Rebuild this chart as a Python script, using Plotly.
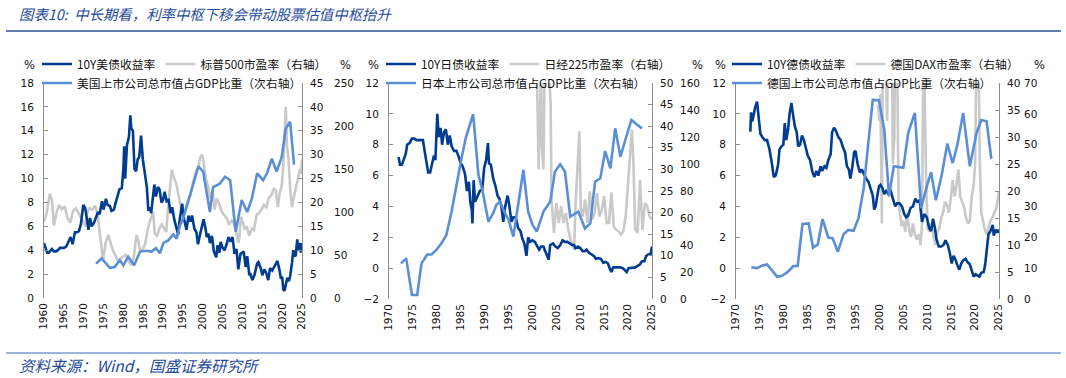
import plotly.graph_objects as go

# ---------------- data ----------------
ticks_p1 = list(range(1960, 2026, 5))
ticks_p23 = list(range(1970, 2026, 5))

# Panel 1: United States
us_yield_t = [1960.0, 1960.4, 1960.8, 1961.2, 1961.6, 1962.0, 1962.5, 1963.0, 1963.5, 1964.0, 1964.5, 1965.0,
              1965.6, 1966.0, 1966.7, 1967.2, 1967.8, 1968.3, 1968.8, 1969.3, 1969.9, 1970.4, 1970.9, 1971.2,
              1971.6, 1972.0, 1972.6, 1973.0, 1973.6, 1974.0, 1974.6, 1975.0, 1975.6, 1976.0, 1976.6, 1977.0,
              1977.6, 1978.0, 1978.6, 1979.0, 1979.6, 1980.0, 1980.2, 1980.45, 1980.9, 1981.4, 1981.75, 1982.0,
              1982.4, 1982.8, 1983.2, 1983.6, 1984.0, 1984.45, 1984.9, 1985.4, 1985.9, 1986.3, 1986.7, 1987.0,
              1987.4, 1987.8, 1988.2, 1988.7, 1989.1, 1989.6, 1990.0, 1990.4, 1990.9, 1991.4, 1991.9, 1992.3,
              1992.8, 1993.3, 1993.8, 1994.2, 1994.8, 1995.3, 1995.9, 1996.4, 1996.9, 1997.3, 1997.9, 1998.4,
              1998.8, 1999.3, 1999.9, 2000.2, 2000.7, 2001.0, 2001.4, 2001.8, 2002.3, 2002.8, 2003.4, 2003.7,
              2004.2, 2004.5, 2005.0, 2005.5, 2006.0, 2006.5, 2007.0, 2007.5, 2008.0, 2008.5, 2008.95, 2009.5,
              2010.0, 2010.3, 2010.8, 2011.2, 2011.7, 2012.0, 2012.5, 2013.0, 2013.7, 2014.0, 2014.6, 2015.0,
              2015.5, 2016.0, 2016.5, 2016.95, 2017.5, 2018.0, 2018.8, 2019.3, 2019.7, 2020.0, 2020.3, 2020.6,
              2021.0, 2021.3, 2021.7, 2022.0, 2022.5, 2022.8, 2023.0, 2023.4, 2023.8, 2024.0, 2024.3, 2024.7,
              2025.0]
us_yield = [4.6, 4.2, 3.8, 3.8, 4.0, 4.1, 3.9, 3.9, 4.0, 4.2, 4.2, 4.2,
            4.3, 4.6, 5.1, 4.5, 5.5, 5.5, 5.6, 6.2, 7.8, 7.5, 6.5, 5.7,
            6.7, 6.0, 6.3, 6.6, 7.2, 7.0, 8.1, 7.4, 8.3, 7.8, 7.7, 7.3,
            7.4, 7.9, 8.6, 9.1, 9.2, 10.8, 12.7, 10.0, 12.8, 13.5, 15.3, 14.2,
            14.0, 10.8, 10.6, 11.6, 11.8, 13.6, 11.6, 10.4, 9.3, 7.3, 7.6, 7.1,
            8.5, 9.5, 8.5, 9.3, 9.1, 8.0, 8.2, 8.9, 8.1, 8.2, 7.1, 7.6,
            6.6, 6.0, 5.3, 6.6, 7.9, 6.6, 5.7, 6.9, 6.4, 6.9, 5.8, 5.5,
            4.5, 5.3, 6.3, 6.6, 5.8, 5.1, 5.4, 4.6, 5.2, 3.9, 3.4, 4.4,
            3.8, 4.7, 4.2, 4.0, 4.5, 5.1, 4.7, 5.1, 3.7, 4.1, 2.4, 3.7,
            3.8, 3.9, 2.6, 3.5, 2.0, 2.0, 1.5, 1.9, 2.9, 3.0, 2.5, 1.9,
            2.4, 2.1, 1.5, 2.5, 2.3, 2.6, 3.1, 2.4, 1.6, 1.8, 0.7, 0.6,
            1.1, 1.7, 1.4, 1.8, 3.0, 4.0, 3.6, 3.5, 4.9, 4.0, 4.6, 3.8,
            4.6]

sp_pe_t = [1960.0, 1960.6, 1961.5, 1962.0, 1962.5, 1963.2, 1963.8, 1964.5, 1965.2, 1965.9, 1966.6, 1967.3,
           1968.0, 1968.6, 1969.2, 1969.9, 1970.4, 1970.9, 1971.5, 1972.2, 1972.9, 1973.5, 1974.0, 1974.5,
           1974.9, 1975.5, 1976.2, 1976.8, 1977.5, 1978.1, 1978.7, 1979.3, 1980.0, 1980.6, 1981.2, 1982.0,
           1982.6, 1983.3, 1983.8, 1984.3, 1984.9, 1985.5, 1986.1, 1986.7, 1987.5, 1987.9, 1988.5, 1989.1,
           1989.7, 1990.3, 1990.8, 1991.3, 1991.8, 1992.2, 1992.8, 1993.3, 1993.9, 1994.5, 1995.0, 1995.6,
           1996.3, 1996.9, 1997.6, 1998.3, 1998.9, 1999.4, 1999.9, 2000.3, 2000.8, 2001.3, 2001.9, 2002.5,
           2003.0, 2003.5, 2004.2, 2004.8, 2005.5, 2006.0, 2006.6, 2007.3, 2007.9, 2008.4, 2008.9, 2009.2,
           2009.6, 2010.0, 2010.6, 2011.1, 2011.7, 2012.3, 2012.9, 2013.6, 2014.2, 2014.8, 2015.4, 2016.0,
           2016.7, 2017.3, 2017.9, 2018.4, 2018.9, 2019.4, 2019.9, 2020.3, 2020.6, 2020.9, 2021.2, 2021.6,
           2022.1, 2022.5, 2022.8, 2023.2, 2023.6, 2024.0, 2024.5, 2024.8, 2025.0]
sp_pe = [16.0, 17.5, 21.8, 20.5, 15.2, 18.0, 19.5, 18.5, 19.2, 16.8, 15.8, 18.2,
         18.8, 18.0, 17.0, 15.8, 15.0, 18.0, 18.8, 18.5, 19.3, 17.5, 14.0, 10.4,
         7.8, 11.5, 13.2, 11.5, 9.7, 8.7, 7.6, 8.3, 8.6, 9.0, 7.9, 6.9,
         8.5, 13.2, 11.8, 9.6, 10.2, 11.4, 14.2, 16.2, 18.0, 13.5, 13.0, 14.6,
         15.4, 14.5, 13.8, 19.5, 24.0, 26.8, 25.0, 24.0, 21.5, 19.0, 16.8, 18.5,
         20.5, 21.5, 24.5, 26.5, 27.5, 29.5, 30.0, 27.8, 25.0, 23.5, 21.0, 22.5,
         18.5, 20.8, 19.5, 18.0, 17.2, 16.7, 15.5, 16.2, 15.5, 14.0, 11.5, 12.5,
         17.0, 16.0, 14.5, 14.8, 13.0, 14.5, 14.2, 17.5, 17.8, 18.5, 19.5, 19.0,
         21.0, 21.5, 23.0, 22.5, 19.0, 22.0, 23.5, 27.8, 35.0, 40.0, 32.0, 29.0,
         22.0, 19.0, 20.5, 22.0, 23.0, 24.5, 27.0, 26.0, 29.0]

us_mcap_t = [1973.1, 1974.5, 1976.6, 1977.8, 1979.1, 1980.0, 1981.2, 1982.7, 1984.2, 1985.7, 1987.1, 1988.2,
             1989.2, 1990.1, 1991.3, 1992.6, 1993.4, 1994.3, 1995.1, 1996.8, 1998.9, 2000.1, 2001.8, 2002.6,
             2004.3, 2005.6, 2006.9, 2008.3, 2009.8, 2011.2, 2012.4, 2013.7, 2015.2, 2016.2, 2017.4, 2018.6,
             2019.9, 2020.9, 2022.0, 2023.0]
us_mcap = [40, 46, 35, 36, 44, 38, 48, 38, 54, 55, 54, 58,
           52, 64, 67, 74, 69, 85, 93, 120, 153, 147, 100, 129,
           133, 141, 137, 77, 114, 100, 116, 145, 137, 145, 162, 147,
           164, 197, 205, 155]

# Panel 2: Japan
jp_yield_t = [1972.0, 1972.3, 1972.7, 1973.1, 1973.5, 1973.8, 1974.3, 1974.8, 1975.3, 1975.8, 1976.5, 1977.1,
              1977.5, 1977.8, 1978.2, 1978.6, 1979.0, 1979.4, 1979.7, 1980.1, 1980.4, 1980.8, 1981.1, 1981.5,
              1981.9, 1982.3, 1982.7, 1983.1, 1983.6, 1984.1, 1984.6, 1985.0, 1985.4, 1985.9, 1986.3, 1986.7,
              1987.0, 1987.3, 1987.45, 1987.7, 1988.0, 1988.5, 1989.0, 1989.5, 1989.9, 1990.3, 1990.7, 1990.9,
              1991.3, 1991.8, 1992.2, 1992.7, 1993.1, 1993.5, 1993.9, 1994.3, 1994.8, 1995.1, 1995.6, 1996.0,
              1996.5, 1997.0, 1997.5, 1997.9, 1998.3, 1998.75, 1999.1, 1999.5, 2000.0, 2000.5, 2001.0, 2001.4,
              2001.8, 2002.3, 2002.8, 2003.4, 2003.7, 2004.3, 2004.8, 2005.3, 2005.8, 2006.3, 2006.8, 2007.3,
              2007.8, 2008.3, 2008.7, 2009.0, 2009.5, 2010.0, 2010.5, 2010.9, 2011.3, 2011.8, 2012.3, 2012.8,
              2013.3, 2013.8, 2014.3, 2014.8, 2015.3, 2015.8, 2016.2, 2016.5, 2016.9, 2017.4, 2017.9, 2018.4,
              2018.9, 2019.3, 2019.7, 2020.1, 2020.6, 2021.0, 2021.5, 2022.0, 2022.5, 2022.9, 2023.4, 2023.8,
              2024.3, 2024.7, 2025.0]
jp_yield = [7.2, 6.7, 6.7, 7.0, 7.4, 8.0, 8.1, 8.4, 8.4, 8.3, 8.3, 8.3,
            7.5, 6.8, 6.2, 6.2, 6.8, 7.3, 7.0, 10.0, 8.5, 9.1, 8.0, 8.8,
            9.0, 8.0, 8.6, 7.9, 7.6, 7.6, 7.2, 6.8, 6.6, 6.1, 5.0, 5.6,
            4.3, 3.8, 2.9, 5.7, 4.3, 4.7, 5.0, 5.1, 6.5, 7.0, 8.1, 6.8,
            6.7, 5.8, 5.4, 4.7, 4.5, 4.0, 3.0, 4.0, 4.7, 4.2, 3.0, 3.3,
            3.3, 2.6, 2.4, 1.9, 1.6, 0.8, 2.0, 1.7, 1.8, 1.7, 1.4, 1.2,
            1.4, 1.4, 1.0, 0.55, 1.5, 1.6, 1.4, 1.3, 1.5, 1.8, 1.7, 1.7,
            1.6, 1.5, 1.5, 1.3, 1.4, 1.3, 1.1, 1.1, 1.2, 1.0, 0.9, 0.8,
            0.6, 0.65, 0.6, 0.35, 0.4, 0.3, -0.05, -0.25, 0.05, 0.05, 0.05, 0.05,
            0.0, -0.1, -0.25, 0.0, 0.02, 0.05, 0.05, 0.15, 0.25, 0.45, 0.45, 0.8,
            0.9, 0.9, 1.4]

nk_pe_t = [2000.8, 2001.0, 2001.3, 2001.5, 2001.8, 2002.0, 2002.3, 2002.6, 2003.0, 2003.4, 2003.8, 2004.0,
           2004.5, 2005.0, 2005.5, 2006.0, 2006.5, 2007.0, 2007.5, 2008.0, 2008.7, 2009.0, 2009.8, 2010.1,
           2010.5, 2011.0, 2011.5, 2012.0, 2012.5, 2013.0, 2013.5, 2014.0, 2014.5, 2015.0, 2015.5, 2016.0,
           2016.5, 2017.0, 2017.5, 2018.0, 2018.5, 2019.0, 2019.5, 2020.0, 2020.8, 2021.1, 2021.5, 2022.0,
           2022.5, 2023.0, 2023.5, 2024.0, 2024.5, 2025.0]
nk_pe = [60, 45, 30, 40, 52, 35, 30, 60, 70, 55, 45, 23,
         15.3, 22.2, 17.6, 21.5, 17.6, 19.9, 16.0, 13.7, 11.4, 21.5, 38.8, 21.0,
         19.1, 23.0, 17.6, 24.9, 18.4, 19.9, 24.5, 19.1, 20.7, 23.8, 17.6, 17.6,
         24.7, 16.8, 16.0, 15.7, 14.9, 15.7, 19.1, 26.9, 39.2, 32.0, 16.0, 15.3,
         27.6, 16.0, 22.2, 21.5, 19.1, 18.4]

jp_mcap_t = [1972.5, 1973.6, 1974.8, 1975.9, 1976.8, 1978.0, 1978.9, 1979.9, 1981.0, 1982.0, 1983.1, 1984.1,
             1985.2, 1986.1, 1987.6, 1988.7, 1989.5, 1990.8, 1991.8, 1992.5, 1993.2, 1994.2, 1995.0, 1996.0,
             1997.0, 1998.1, 1999.1, 2000.0, 2000.9, 2002.3, 2003.7, 2004.7, 2005.8, 2006.8, 2007.9, 2009.6,
             2011.0, 2012.1, 2013.1, 2014.2, 2015.2, 2016.3, 2017.3, 2018.4, 2019.6, 2020.7, 2021.9, 2022.9]
jp_mcap = [26.4, 30.1, 3.0, 3.0, 26.4, 33.0, 33.0, 36.3, 41.5, 47.4, 65.0, 85.0,
           105.0, 120.0, 137.0, 91.9, 81.0, 57.3, 63.7, 70.0, 72.1, 64.0, 58.8, 46.2,
           68.6, 95.6, 64.7, 55.0, 49.9, 64.7, 72.1, 94.3, 99.8, 94.3, 61.0, 64.7,
           52.3, 56.0, 86.9, 89.4, 109.6, 96.8, 126.4, 105.4, 120.0, 132.6, 129.0, 126.4]

# Panel 3: Germany
de_yield_t = [1973.0, 1973.15, 1973.4, 1973.7, 1974.0, 1974.4, 1974.8, 1975.1, 1975.5, 1976.0, 1976.5, 1977.0,
              1977.5, 1977.9, 1978.3, 1978.8, 1979.1, 1979.5, 1979.9, 1980.2, 1980.5, 1980.9, 1981.2, 1981.6,
              1981.9, 1982.3, 1982.7, 1983.0, 1983.4, 1983.8, 1984.2, 1984.6, 1985.0, 1985.5, 1986.0, 1986.4,
              1986.8, 1987.2, 1987.7, 1988.0, 1988.5, 1988.9, 1989.3, 1989.8, 1990.1, 1990.5, 1990.9, 1991.4,
              1991.9, 1992.3, 1992.8, 1993.2, 1993.6, 1993.9, 1994.3, 1994.7, 1995.0, 1995.4, 1995.9, 1996.3,
              1996.8, 1997.2, 1997.7, 1998.2, 1998.6, 1998.9, 1999.2, 1999.5, 1999.9, 2000.2, 2000.6, 2001.0,
              2001.4, 2001.9, 2002.3, 2002.8, 2003.3, 2003.7, 2004.2, 2004.7, 2005.2, 2005.6, 2006.0, 2006.5,
              2007.0, 2007.5, 2007.9, 2008.4, 2008.9, 2009.4, 2009.9, 2010.4, 2010.8, 2011.2, 2011.6, 2011.9,
              2012.4, 2012.9, 2013.4, 2013.8, 2014.3, 2014.7, 2015.1, 2015.5, 2015.9, 2016.4, 2016.7, 2017.1,
              2017.5, 2018.0, 2018.4, 2018.9, 2019.3, 2019.7, 2020.1, 2020.5, 2020.9, 2021.3, 2021.8, 2022.1,
              2022.5, 2022.8, 2023.2, 2023.7, 2023.9, 2024.3, 2024.7, 2025.0]
de_yield = [8.85, 10.1, 9.5, 10.0, 10.4, 10.8, 9.5, 8.7, 8.5, 8.3, 8.3, 7.7,
            6.8, 5.9, 6.0, 6.7, 7.7, 7.9, 8.0, 9.4, 8.3, 9.0, 10.0, 10.7,
            10.0, 9.2, 8.8, 7.9, 8.0, 8.6, 8.3, 7.8, 7.3, 7.0, 6.2, 5.9,
            6.3, 6.0, 6.6, 6.3, 6.6, 6.5, 7.0, 7.4, 8.8, 9.1, 8.9, 8.5,
            8.3, 7.9, 7.5, 6.6, 6.4, 5.8, 6.5, 7.5, 7.6, 6.8, 6.2, 6.4,
            6.0, 5.8, 5.6, 5.1, 4.7, 3.8, 4.0, 4.6, 5.3, 5.4, 5.2, 4.8,
            5.0, 4.8, 5.1, 4.5, 4.0, 4.2, 4.2, 4.0, 3.5, 3.3, 3.4, 3.9,
            4.0, 4.5, 4.3, 4.4, 3.0, 3.5, 3.3, 2.6, 2.4, 3.2, 2.6, 1.9,
            1.4, 1.4, 1.5, 1.8, 1.5, 1.0, 0.3, 0.8, 0.55, 0.1, -0.1, 0.3,
            0.5, 0.6, 0.4, 0.25, -0.1, -0.55, -0.4, -0.45, -0.55, -0.3, -0.25, 0.2,
            1.3, 2.2, 2.4, 2.8, 2.1, 2.5, 2.3, 2.5]

dax_pe_t = [1999.7, 2000.0, 2000.2, 2000.5, 2000.7, 2001.0, 2001.3, 2001.6, 2001.9, 2002.2, 2002.5, 2002.8,
            2003.1, 2003.4, 2003.7, 2004.0, 2004.3, 2004.6, 2005.0, 2005.4, 2005.8, 2006.2, 2006.6, 2007.0,
            2007.4, 2007.8, 2008.2, 2008.6, 2008.9, 2009.1, 2009.3, 2009.5, 2009.8, 2010.1, 2010.5, 2010.9,
            2011.3, 2011.7, 2012.1, 2012.5, 2012.9, 2013.3, 2013.7, 2014.1, 2014.5, 2014.9, 2015.3, 2015.7,
            2016.1, 2016.5, 2016.9, 2017.3, 2017.7, 2018.1, 2018.5, 2018.9, 2019.3, 2019.7, 2020.0, 2020.2,
            2020.4, 2020.7, 2021.0, 2021.3, 2021.7, 2022.0, 2022.4, 2022.8, 2023.2, 2023.6, 2024.0, 2024.5,
            2025.0]
dax_pe = [36, 33, 38, 14, 50, 60, 45, 33, 55, 40, 60, 25,
          30, 55, 45, 18, 15, 13.5, 14.5, 12.5, 16, 13, 11.5, 14,
          12, 11, 12, 10, 14, 45, 60, 35, 20, 13, 12.5, 14,
          11.5, 10, 12.5, 13, 15, 16, 18, 17.5, 16, 18.5, 22, 19,
          21, 24, 19, 18, 17, 15, 14, 14.5, 19, 21, 25, 40,
          60, 45, 25, 16, 14, 13, 12, 13.5, 14.5, 15, 16, 17,
          20]

de_mcap_t = [1973.2, 1974.4, 1975.4, 1976.5, 1977.4, 1978.6, 1979.6, 1980.7, 1982.0, 1982.9, 1983.9, 1985.2,
             1986.1, 1987.1, 1988.1, 1989.3, 1990.2, 1991.3, 1992.5, 1993.5, 1994.6, 1995.6, 1996.7, 1997.6,
             1998.6, 1999.9, 2001.0, 2002.0, 2003.0, 2005.0, 2006.0, 2007.4, 2008.7, 2010.0, 2010.8, 2011.8,
             2013.0, 2014.2, 2015.3, 2016.3, 2017.5, 2018.9, 2020.3, 2021.3, 2022.4, 2023.4]
de_mcap = [10.3, 10.0, 10.8, 11.2, 9.5, 7.2, 7.5, 8.6, 10.7, 10.7, 24.3, 24.5,
           16.6, 17.7, 25.9, 19.9, 19.7, 15.3, 21.0, 22.4, 22.1, 26.1, 35.9, 50.0,
           64.5, 64.4, 54.9, 33.3, 43.0, 42.5, 53.8, 60.3, 29.4, 37.0, 41.1, 32.0,
           40.0, 50.4, 44.0, 50.0, 60.3, 43.0, 53.8, 58.0, 57.6, 45.4]

# ---------------- styling ----------------
W, H = 1066, 378
def px(x):
    return x / W
def py(y):
    return 1 - y / H

DARK = "#003D91"
LIGHT = "#5B8FD5"
GRAY = "#C9C9C9"
AXIS = "#8E8E8E"
TXT = "#111111"
BLUE_TXT = "#1F4C9B"
CJK = "Noto Sans CJK SC"
NUM = "DejaVu Sans"
LW = 2.6

panels = [
    dict(x0=44, x1=302, top=83, bot=298, xr=[1960, 2025], xt=ticks_p1,
         yl=[0, 18], pe=[0, 45], mc=[0, 250], mcd=50, mcpos=333, zero=298,
         yld=(us_yield_t, us_yield), pet=(sp_pe_t, sp_pe), mct=(us_mcap_t, us_mcap),
         names=("10Y美债收益率", "标普500市盈率（右轴）", "美国上市公司总市值占GDP比重（次右轴）"),
         leg_x=37, pct_l=29, pct_r=345),
    dict(x0=389, x1=652, top=83, bot=299, xr=[1970, 2025], xt=ticks_p23,
         yl=[-2, 12], pe=[0, 50], mc=[0, 160], mcd=20, mcpos=679, zero=268.1,
         yld=(jp_yield_t, jp_yield), pet=(nk_pe_t, nk_pe), mct=(jp_mcap_t, jp_mcap),
         names=("10Y日债收益率", "日经225市盈率（右轴）", "日本上市公司总市值占GDP比重（次右轴）"),
         leg_x=381, pct_l=373, pct_r=697),
    dict(x0=736, x1=999, top=83, bot=299, xr=[1970, 2025], xt=ticks_p23,
         yl=[-2, 12], pe=[0, 40], mc=[0, 70], mcd=10, mcpos=1023, zero=268.1,
         yld=(de_yield_t, de_yield), pet=(dax_pe_t, dax_pe), mct=(de_mcap_t, de_mcap),
         names=("10Y德债收益率", "德国DAX市盈率（右轴）", "德国上市公司总市值占GDP比重（次右轴）"),
         leg_x=727, pct_l=720, pct_r=1039),
]

fig = go.Figure()
layout = dict(width=W, height=H, margin=dict(l=0, r=0, t=0, b=0, pad=0, autoexpand=False),
              plot_bgcolor="white", paper_bgcolor="white", showlegend=True)
annotations = []
tickfont = dict(family=NUM, size=10.5, color=TXT)

for i, p in enumerate(panels):
    n = i + 1
    xa = "x" if n == 1 else f"x{n}"
    ype = "y" if n == 1 else f"y{3 * i + 1}"
    yyl = f"y{3 * i + 2}"
    ymc = f"y{3 * i + 3}"
    dom_x = [px(p["x0"]), px(p["x1"])]
    dom_y = [py(p["bot"]), py(p["top"])]
    leg_a = "legend" if n == 1 else f"legend{n}"
    leg_b = f"legend{n + 3}"

    # traces: PE (base, bottom), yield (over), market cap/GDP (top)
    fig.add_trace(go.Scatter(x=p["pet"][0], y=p["pet"][1], xaxis=xa, yaxis=ype, mode="lines",
                             line=dict(color=GRAY, width=LW), name=p["names"][1],
                             legend=leg_a, legendrank=2, hoverinfo="skip"))
    fig.add_trace(go.Scatter(x=p["yld"][0], y=p["yld"][1], xaxis=xa, yaxis=yyl, mode="lines",
                             line=dict(color=DARK, width=LW), name=p["names"][0],
                             legend=leg_a, legendrank=1, hoverinfo="skip"))
    fig.add_trace(go.Scatter(x=p["mct"][0], y=p["mct"][1], xaxis=xa, yaxis=ymc, mode="lines",
                             line=dict(color=LIGHT, width=LW), name=p["names"][2],
                             legend=leg_b, hoverinfo="skip"))

    xk = "xaxis" if n == 1 else f"xaxis{n}"
    layout[xk] = dict(domain=dom_x, range=p["xr"], anchor=ype, tickmode="array", tickvals=p["xt"],
                      tickangle=-90, showline=False, ticks="", showgrid=False, zeroline=False,
                      tickfont=tickfont, ticklabelstandoff=2, automargin=False)
    layout[f"xaxis{n + 3}"] = dict(overlaying=xa, range=p["xr"], anchor="free", position=py(p["zero"]),
                                   side="bottom", tickmode="array", tickvals=p["xt"], ticks="inside",
                                   ticklen=4, tickcolor=AXIS, showline=True, linecolor=AXIS, linewidth=1,
                                   showticklabels=False, showgrid=False, zeroline=False, automargin=False)
    ypk = "yaxis" if n == 1 else f"yaxis{3 * i + 1}"
    layout[ypk] = dict(domain=dom_y, range=p["pe"], dtick=5, tick0=0, anchor=xa, side="right",
                       showline=True, linecolor=AXIS, linewidth=1, ticks="inside", ticklen=4,
                       tickcolor=AXIS, showgrid=False, zeroline=False, tickfont=tickfont,
                       ticklabelstandoff=5, automargin=False)
    layout[f"yaxis{3 * i + 2}"] = dict(overlaying=ype, range=p["yl"], dtick=2, tick0=0, anchor=xa,
                                       side="left", showline=True, linecolor=AXIS, linewidth=1,
                                       ticks="inside", ticklen=4, tickcolor=AXIS, showgrid=False,
                                       zeroline=False, tickfont=tickfont, ticklabelstandoff=7,
                                       automargin=False)
    layout[f"yaxis{3 * i + 3}"] = dict(overlaying=ype, range=p["mc"], dtick=p["mcd"], tick0=0,
                                       anchor="free", position=px(p["mcpos"]), side="right",
                                       showline=False, ticks="", showgrid=False, zeroline=False,
                                       tickfont=tickfont, automargin=False)
    legfont = dict(family=CJK, size=11.8, color=TXT)
    layout[leg_a] = dict(orientation="h", x=px(p["leg_x"]), y=py(64), xanchor="left", yanchor="middle",
                         bgcolor="rgba(0,0,0,0)", font=legfont, itemwidth=30, traceorder="normal")
    layout[leg_b] = dict(orientation="h", x=px(p["leg_x"]), y=py(83), xanchor="left", yanchor="middle",
                         bgcolor="rgba(0,0,0,0)", font=legfont, itemwidth=30)
    for xx in (p["pct_l"], p["pct_r"]):
        annotations.append(dict(text="%", x=px(xx), y=py(65), xref="paper", yref="paper",
                                showarrow=False, xanchor="center", yanchor="middle",
                                font=dict(family=NUM, size=11.5, color=TXT)))

annotations.append(dict(text="<i>图表10:  中长期看，利率中枢下移会带动股票估值中枢抬升</i>",
                        x=px(17), y=py(14), xref="paper", yref="paper", showarrow=False,
                        xanchor="left", yanchor="middle",
                        font=dict(family=CJK, size=14.4, color=BLUE_TXT)))
annotations.append(dict(text="<i>资料来源：Wind，国盛证券研究所</i>",
                        x=px(17), y=py(365), xref="paper", yref="paper", showarrow=False,
                        xanchor="left", yanchor="middle",
                        font=dict(family=CJK, size=15.5, color=BLUE_TXT)))
layout["annotations"] = annotations
layout["shapes"] = [
    dict(type="line", xref="paper", yref="paper", x0=px(6), x1=px(1061), y0=py(31), y1=py(31),
         line=dict(color="#2F5597", width=1.6)),
    dict(type="line", xref="paper", yref="paper", x0=px(6), x1=px(1061), y0=py(353), y1=py(353),
         line=dict(color="#7A9BCF", width=1.6)),
]
fig.update_layout(**layout)
# static picture: no mode bar; figure flush with the window's top-left corner
fig.write_html("out.html", config={"displayModeBar": False, "staticPlot": True},
               post_script="document.body.style.margin='0px';")
